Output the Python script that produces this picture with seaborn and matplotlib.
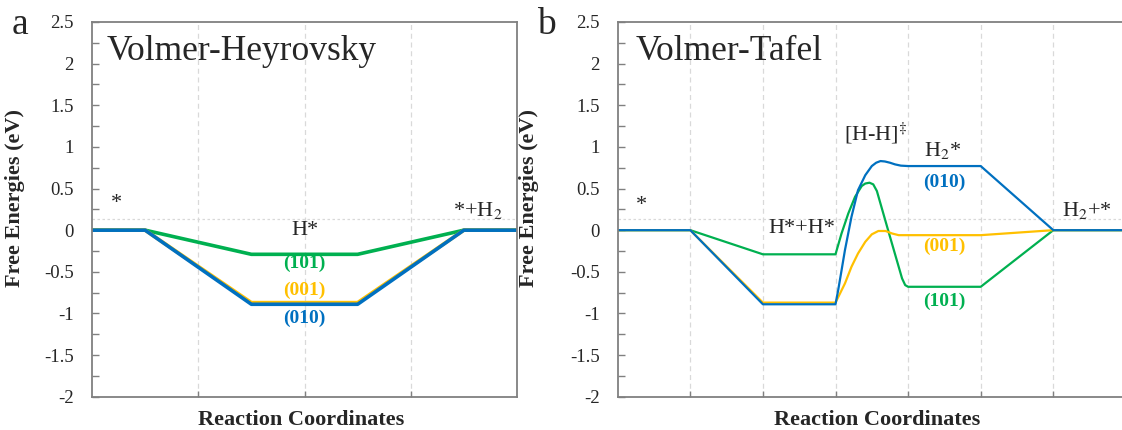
import matplotlib
matplotlib.use("Agg")
import matplotlib.pyplot as plt
from matplotlib.ticker import MultipleLocator, FixedLocator, FuncFormatter
import numpy as np
import pandas as pd
import seaborn as sns

# ---- Volmer-Heyrovsky pathway (panel a) ----
vh_x = [0, 0.5, 1.5, 2.5, 3.5, 4]
vh_101 = [0, 0, -0.29, -0.29, 0, 0]
vh_001 = [0, 0, -0.87, -0.87, 0, 0]
vh_010 = [0, 0, -0.89, -0.89, 0, 0]

# ---- Volmer-Tafel pathway (panel b) ----
vt_x_101 = [0, 1, 2, 3, 3.083, 3.176, 3.269, 3.361, 3.41, 3.468, 3.52, 3.57, 3.639,
            3.731, 3.824, 3.917, 3.96, 4, 5, 6, 7]
vt_101 = [0, 0, -0.29, -0.29, -0.04, 0.20, 0.40, 0.53, 0.56, 0.57, 0.55, 0.47, 0.26,
          -0.02, -0.30, -0.58, -0.66, -0.68, -0.68, 0, 0]
vt_x_001 = [0, 1, 2, 3, 3.04, 3.13, 3.22, 3.31, 3.41, 3.5, 3.59, 3.69, 3.78, 3.87, 4, 5, 6, 7]
vt_001 = [0, 0, -0.87, -0.87, -0.80, -0.64, -0.44, -0.28, -0.14, -0.05, -0.01, -0.01,
          -0.04, -0.06, -0.06, -0.06, 0, 0]
vt_x_010 = [0, 1, 2, 3, 3.037, 3.08, 3.13, 3.22, 3.31, 3.41, 3.5, 3.56, 3.62, 3.68,
            3.75, 3.82, 3.9, 4, 5, 6, 7]
vt_010 = [0, 0, -0.89, -0.89, -0.72, -0.50, -0.24, 0.16, 0.48, 0.66, 0.77, 0.81, 0.83,
          0.825, 0.81, 0.79, 0.775, 0.77, 0.77, 0, 0]

facets = ["(101)", "(001)", "(010)"]
facet_colors = {"(101)": "#00B050", "(001)": "#FFC000", "(010)": "#0070C0"}

y_ticks = [2.5, 2, 1.5, 1, 0.5, 0, -0.5, -1, -1.5, -2]


def long_frame(xs, ys):
    parts = []
    for name, x, y in zip(facets, xs, ys):
        parts.append(pd.DataFrame({"step": x, "energy": y, "facet": name}))
    return pd.concat(parts, ignore_index=True)


df_vh = long_frame([vh_x, vh_x, vh_x], [vh_101, vh_001, vh_010])
df_vt = long_frame([vt_x_101, vt_x_001, vt_x_010], [vt_101, vt_001, vt_010])

sns.set_style("white")
plt.rcParams["font.family"] = ["Liberation Serif", "DejaVu Serif"]
plt.rcParams["axes.unicode_minus"] = False
plt.rcParams["mathtext.fontset"] = "stix"

W, H = 1122, 430
fig = plt.figure(figsize=(W / 100, H / 100), dpi=100)

top_px, bot_px = 22, 396.7
ax_a = fig.add_axes([92 / W, (H - bot_px) / H, (517 - 92) / W, (bot_px - top_px) / H])
ax_b = fig.add_axes([617.7 / W, (H - bot_px) / H, (W - 617.7) / W, (bot_px - top_px) / H])

spine_col = "#808080"
grid_col = "#d9d9d9"


def style_axes(ax, xmax, grid_x):
    ax.set_ylim(-2, 2.5)
    ax.set_xlim(0, xmax)
    ax.yaxis.set_major_locator(FixedLocator(y_ticks))
    ax.yaxis.set_minor_locator(MultipleLocator(0.25))
    ax.yaxis.set_major_formatter(FuncFormatter(lambda v, p: f"{v:g}"))
    ax.xaxis.set_major_locator(FixedLocator(grid_x))
    ax.set_xticklabels([])
    ax.tick_params(axis="y", which="both", direction="in", length=5, width=1,
                   color=spine_col, labelsize=13.5, pad=13, left=True)
    ax.tick_params(axis="x", which="major", direction="in", length=4, width=1,
                   color=spine_col, bottom=True)
    for s in ax.spines.values():
        s.set_color(spine_col)
        s.set_linewidth(1.3)
    for gx in grid_x:
        ax.axvline(gx, color=grid_col, lw=0.9, ls=(0, (4, 3)), zorder=0)
    ax.axhline(0.14, color=grid_col, lw=0.9, ls=(0, (2, 2)), zorder=0)
    ax.set_ylabel("Free Energies (eV)", fontsize=16, fontweight="bold")
    ax.set_xlabel("Reaction Coordinates", fontsize=16, fontweight="bold")


sns.lineplot(data=df_vh, x="step", y="energy", hue="facet", hue_order=facets,
             palette=facet_colors, sort=False, estimator=None, legend=False,
             linewidth=2.6, ax=ax_a)
sns.lineplot(data=df_vt, x="step", y="energy", hue="facet", hue_order=facets,
             palette=facet_colors, sort=False, estimator=None, legend=False,
             linewidth=1.6, ax=ax_b)

style_axes(ax_a, 4, [1, 2, 3])
style_axes(ax_b, (W - 617.7) / 72.6, [1, 2, 3, 4, 5, 6])
ax_b.spines["right"].set_visible(False)

ax_a.yaxis.set_label_coords(-0.158, 0.53)
ax_b.yaxis.set_label_coords(-0.156, 0.53)
ax_a.xaxis.set_label_coords(0.492, -0.035)
ax_b.xaxis.set_label_coords(0.514, -0.035)

# panel titles and letters
ax_a.text(0.14, 2.04, "Volmer-Heyrovsky", fontsize=25.5, va="baseline", ha="left")
ax_b.text(0.25, 2.04, "Volmer-Tafel", fontsize=25.5, va="baseline", ha="left")
fig.text(12 / W, 1 - 34 / H, "a", fontsize=27, va="baseline", ha="left")
fig.text(537 / W, 1 - 34 / H, "b", fontsize=27, va="baseline", ha="left")

# state labels, panel a
lab = dict(fontsize=16, ha="center", va="center")
ax_a.text(0.23, 0.32, "*", **lab)
ax_a.text(2.0, 0.0, "H*", **lab)
ax_a.text(3.63, 0.24, r"*+H$_2$", **lab)

# facet labels, panel a
fl = dict(fontsize=14, fontweight="bold", ha="center", va="center")
ax_a.text(2.0, -0.40, "(101)", color=facet_colors["(101)"], **fl)
ax_a.text(2.0, -0.72, "(001)", color=facet_colors["(001)"], **fl)
ax_a.text(2.0, -1.06, "(010)", color=facet_colors["(010)"], **fl)

# state labels, panel b
ax_b.text(0.33, 0.30, "*", **lab)
ax_b.text(2.53, 0.02, "H*+H*", **lab)
ax_b.text(3.55, 1.16, "[H-H]$^{\u2021}$", **lab)
ax_b.text(4.48, 0.96, r"H$_2$*", **lab)
ax_b.text(6.46, 0.24, r"H$_2$+*", **lab)

# facet labels, panel b
ax_b.text(4.5, 0.58, "(010)", color=facet_colors["(010)"], **fl)
ax_b.text(4.5, -0.20, "(001)", color=facet_colors["(001)"], **fl)
ax_b.text(4.5, -0.86, "(101)", color=facet_colors["(101)"], **fl)

fig.savefig("out.png", dpi=100)
